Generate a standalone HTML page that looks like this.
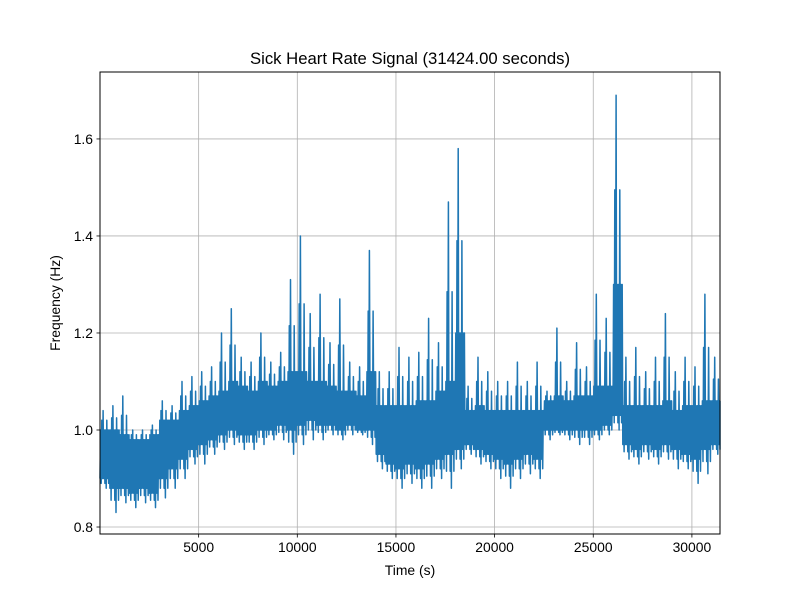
<!DOCTYPE html>
<html><head><meta charset="utf-8"><style>
body{margin:0;background:#fff}
svg text{font-family:"Liberation Sans","DejaVu Sans",sans-serif;fill:#000}
</style></head><body>
<svg id="chart" width="800" height="600">
<rect width="800" height="600" fill="#fff"/>
<g id="grid"></g>
<g id="series"></g>
<rect x="100" y="72" width="620" height="462" fill="none" stroke="#000" stroke-width="1"/>
<g id="axes"></g>
<text x="410" y="64" text-anchor="middle" font-size="16.7">Sick Heart Rate Signal (31424.00 seconds)</text>
<text x="410" y="575" text-anchor="middle" font-size="13.9">Time (s)</text>
<text transform="translate(60,303) rotate(-90)" text-anchor="middle" font-size="13.9">Frequency (Hz)</text>
</svg>
<script>
const binStart=[0,500,1000,1500,2000,2500,3000,3500,4000,4500,5000,5500,6000,6500,7000,7500,8000,8500,9000,9500,10000,10500,11000,11500,12000,12500,13000,13500,14000,14500,15000,15500,16000,16500,17000,17500,18000,18500,19000,19500,20000,20500,21000,21500,22000,22500,23000,23500,24000,24500,25000,25500,26000,26500,27000,27500,28000,28500,29000,29500,30000,30500,31000];
const maxVals=[1.04,1.05,1.07,1.0,1.0,1.01,1.06,1.05,1.1,1.11,1.12,1.13,1.2,1.25,1.15,1.14,1.2,1.14,1.16,1.31,1.40,1.24,1.28,1.18,1.27,1.14,1.13,1.37,1.12,1.12,1.17,1.15,1.16,1.23,1.18,1.47,1.58,1.09,1.15,1.12,1.1,1.1,1.14,1.1,1.14,1.08,1.21,1.1,1.18,1.13,1.28,1.23,1.69,1.15,1.17,1.12,1.15,1.24,1.12,1.15,1.13,1.28,1.15];
const minVals=[0.88,0.83,0.85,0.84,0.85,0.84,0.86,0.88,0.9,0.93,0.93,0.95,0.96,0.97,0.96,0.96,0.97,0.98,0.98,0.95,0.97,0.98,0.98,0.99,0.98,0.99,0.99,0.97,0.92,0.9,0.88,0.89,0.88,0.88,0.9,0.88,0.92,0.95,0.93,0.92,0.9,0.88,0.9,0.91,0.9,0.98,0.99,0.98,0.97,0.97,0.98,0.99,1.0,0.94,0.93,0.94,0.93,0.94,0.92,0.92,0.89,0.91,0.95];
const bandLo=[0.9,0.88,0.88,0.87,0.88,0.87,0.9,0.92,0.94,0.96,0.97,0.98,0.99,1.0,0.99,0.99,1.0,1.0,1.01,1.0,1.01,1.02,1.01,1.01,1.0,1.01,1.0,1.0,0.95,0.93,0.92,0.93,0.92,0.93,0.94,0.95,0.96,0.97,0.96,0.95,0.94,0.93,0.94,0.95,0.94,1.0,1.0,1.0,1.0,1.0,1.0,1.01,1.03,0.97,0.96,0.97,0.96,0.97,0.96,0.95,0.94,0.96,0.97];
const bandHi=[1.0,1.0,0.99,0.98,0.98,0.99,1.02,1.02,1.04,1.05,1.06,1.07,1.08,1.1,1.09,1.08,1.1,1.09,1.1,1.12,1.12,1.1,1.1,1.09,1.08,1.08,1.07,1.12,1.05,1.05,1.05,1.05,1.06,1.06,1.08,1.1,1.2,1.04,1.05,1.04,1.04,1.04,1.04,1.04,1.04,1.06,1.07,1.06,1.07,1.07,1.09,1.09,1.3,1.05,1.05,1.05,1.05,1.06,1.04,1.05,1.05,1.06,1.06];
const xTicks=[5000,10000,15000,20000,25000,30000];
const yTicks=[0.8,1.0,1.2,1.4,1.6];
const binWidth=500, xMin=0, xMax=31424, yMin=0.7856, yMax=1.738;
const L=100,R=720,T=72,B=534;
const xs=v=>L+(v-xMin)/(xMax-xMin)*(R-L);
const ys=v=>B-(v-yMin)/(yMax-yMin)*(B-T);
const NS='http://www.w3.org/2000/svg';
const grid=document.getElementById('grid'),axes=document.getElementById('axes'),series=document.getElementById('series');
function mk(tag,attrs,parent){const e=document.createElementNS(NS,tag);for(const k in attrs)e.setAttribute(k,attrs[k]);parent.appendChild(e);return e;}
xTicks.forEach(t=>{const x=xs(t);
 const g=mk('line',{x1:x,x2:x,y1:T,y2:B,stroke:'#b0b0b0','stroke-width':0.8},grid);
 
 
 mk('line',{x1:x,x2:x,y1:B,y2:B+3.5,stroke:'#000','stroke-width':0.8},axes);
 const tx=mk('text',{x:x,y:B+18,'text-anchor':'middle','font-size':13.9},axes);tx.textContent=t;
 
 
});
yTicks.forEach(t=>{const y=ys(t);
 const g=mk('line',{x1:L,x2:R,y1:y,y2:y,stroke:'#b0b0b0','stroke-width':0.8},grid);
 
 
 mk('line',{x1:L-3.5,x2:L,y1:y,y2:y,stroke:'#000','stroke-width':0.8},axes);
 const tx=mk('text',{x:L-7,y:y+5,'text-anchor':'end','font-size':13.9},axes);tx.textContent=t.toFixed(1);
 
 
});
let pts=[];
binStart.forEach((s,i)=>{
 const lo=bandLo[i],hi=bandHi[i];
 const up=(hi+maxVals[i])/2, dn=(lo+minVals[i])/2;
 const seq=[lo,hi,dn,up,lo,maxVals[i],lo,hi,dn,hi,minVals[i],up,lo,hi,dn,hi];
 seq.forEach((v,j)=>{const t=Math.min(xMax,s+binWidth*j/seq.length);pts.push(xs(t).toFixed(1)+','+ys(v).toFixed(1));});
});
const p=mk('polyline',{points:pts.join(' '),fill:'none',stroke:'#1f77b4','stroke-width':1.5,'stroke-linejoin':'round'},series);


</script>
</body></html>
